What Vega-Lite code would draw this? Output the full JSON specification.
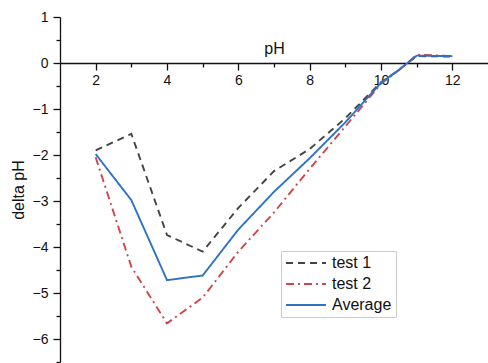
{
  "$schema": "https://vega.github.io/schema/vega-lite/v6.json",
  "autosize": "none",
  "width": 428,
  "height": 345,
  "padding": {"left": 60, "top": 17, "right": 0, "bottom": 1},
  "background": "white",
  "config": {
    "view": {"stroke": null},
    "font": "Liberation Sans",
    "axis": {"labelFont": "Liberation Sans", "titleFont": "Liberation Sans", "labelColor": "#111", "titleColor": "#111", "domainColor": "#111", "tickColor": "#111", "domainWidth": 1.3, "tickWidth": 1.3, "grid": false, "titleFontWeight": "normal"}
  },
  "data": {
    "values": [
      {"pH": 2, "delta": -1.9, "series": "test 1"},
      {"pH": 3, "delta": -1.54, "series": "test 1"},
      {"pH": 4, "delta": -3.74, "series": "test 1"},
      {"pH": 5, "delta": -4.1, "series": "test 1"},
      {"pH": 6, "delta": -3.15, "series": "test 1"},
      {"pH": 7, "delta": -2.35, "series": "test 1"},
      {"pH": 8, "delta": -1.87, "series": "test 1"},
      {"pH": 9, "delta": -1.2, "series": "test 1"},
      {"pH": 10, "delta": -0.42, "series": "test 1"},
      {"pH": 10.5, "delta": -0.15, "series": "test 1"},
      {"pH": 11, "delta": 0.15, "series": "test 1"},
      {"pH": 12, "delta": 0.14, "series": "test 1"},
      {"pH": 2, "delta": -2.05, "series": "test 2"},
      {"pH": 3, "delta": -4.43, "series": "test 2"},
      {"pH": 4, "delta": -5.66, "series": "test 2"},
      {"pH": 5, "delta": -5.1, "series": "test 2"},
      {"pH": 6, "delta": -4.1, "series": "test 2"},
      {"pH": 7, "delta": -3.25, "series": "test 2"},
      {"pH": 8, "delta": -2.3, "series": "test 2"},
      {"pH": 9, "delta": -1.38, "series": "test 2"},
      {"pH": 10, "delta": -0.45, "series": "test 2"},
      {"pH": 10.5, "delta": -0.16, "series": "test 2"},
      {"pH": 11, "delta": 0.18, "series": "test 2"},
      {"pH": 12, "delta": 0.15, "series": "test 2"},
      {"pH": 2, "delta": -1.98, "series": "Average"},
      {"pH": 3, "delta": -2.98, "series": "Average"},
      {"pH": 4, "delta": -4.72, "series": "Average"},
      {"pH": 5, "delta": -4.62, "series": "Average"},
      {"pH": 6, "delta": -3.62, "series": "Average"},
      {"pH": 7, "delta": -2.8, "series": "Average"},
      {"pH": 8, "delta": -2.07, "series": "Average"},
      {"pH": 9, "delta": -1.29, "series": "Average"},
      {"pH": 10, "delta": -0.43, "series": "Average"},
      {"pH": 10.5, "delta": -0.15, "series": "Average"},
      {"pH": 11, "delta": 0.16, "series": "Average"},
      {"pH": 12, "delta": 0.15, "series": "Average"}
    ]
  },
  "mark": {"type": "line", "strokeWidth": 1.9},
  "encoding": {
    "x": {
      "field": "pH", "type": "quantitative",
      "scale": {"domain": [1, 13], "nice": false, "zero": false},
      "axis": {
        "orient": "bottom", "offset": -299, "title": "pH", "titleFontSize": 16,
        "titleY": -10, "titleBaseline": "alphabetic",
        "values": [2, 3, 4, 5, 6, 7, 8, 9, 10, 11, 12],
        "labelExpr": "datum.value % 2 == 0 ? format(datum.value, 'd') : ''",
        "labelFontSize": 14, "labelPadding": 3,
        "tickSize": {"condition": {"test": "datum.value % 2 != 0", "value": 4}, "value": 7}
      }
    },
    "y": {
      "field": "delta", "type": "quantitative",
      "scale": {"domain": [-6.5, 1], "nice": false, "zero": false},
      "axis": {
        "title": "delta pH", "titleFontSize": 16, "titlePadding": 6,
        "values": [-6.5, -6, -5.5, -5, -4.5, -4, -3.5, -3, -2.5, -2, -1.5, -1, -0.5, 0, 0.5, 1],
        "labelExpr": "datum.value % 1 == 0 ? format(datum.value, 'd') : ''",
        "labelFontSize": 14, "labelPadding": 5,
        "tickSize": {"condition": {"test": "datum.value % 1 != 0", "value": 4}, "value": 7}
      }
    },
    "color": {
      "field": "series", "type": "nominal",
      "scale": {"domain": ["test 1", "test 2", "Average"], "range": ["#444444", "#d0454a", "#2f72c4"]},
      "legend": {
        "title": null, "orient": "none", "legendX": 221, "legendY": 234,
        "symbolType": "M-1.4,0H6.6", "symbolSize": 100, "symbolStrokeWidth": 2,
        "labelFontSize": 16, "labelColor": "#111", "labelFont": "Liberation Sans",
        "strokeColor": "#cccccc", "fillColor": "white", "padding": 4, "rowPadding": 5, "labelOffset": 31
      }
    },
    "strokeDash": {
      "field": "series", "type": "nominal",
      "scale": {"domain": ["test 1", "test 2", "Average"], "range": [[7, 5], [8, 4, 2, 4], [1, 0]]},
      "legend": {
        "title": null, "orient": "none", "legendX": 221, "legendY": 234,
        "symbolType": "M-1.4,0H6.6", "symbolSize": 100, "symbolStrokeWidth": 2,
        "labelFontSize": 16, "labelColor": "#111", "labelFont": "Liberation Sans",
        "strokeColor": "#cccccc", "fillColor": "white", "padding": 4, "rowPadding": 5, "labelOffset": 31
      }
    }
  }
}
